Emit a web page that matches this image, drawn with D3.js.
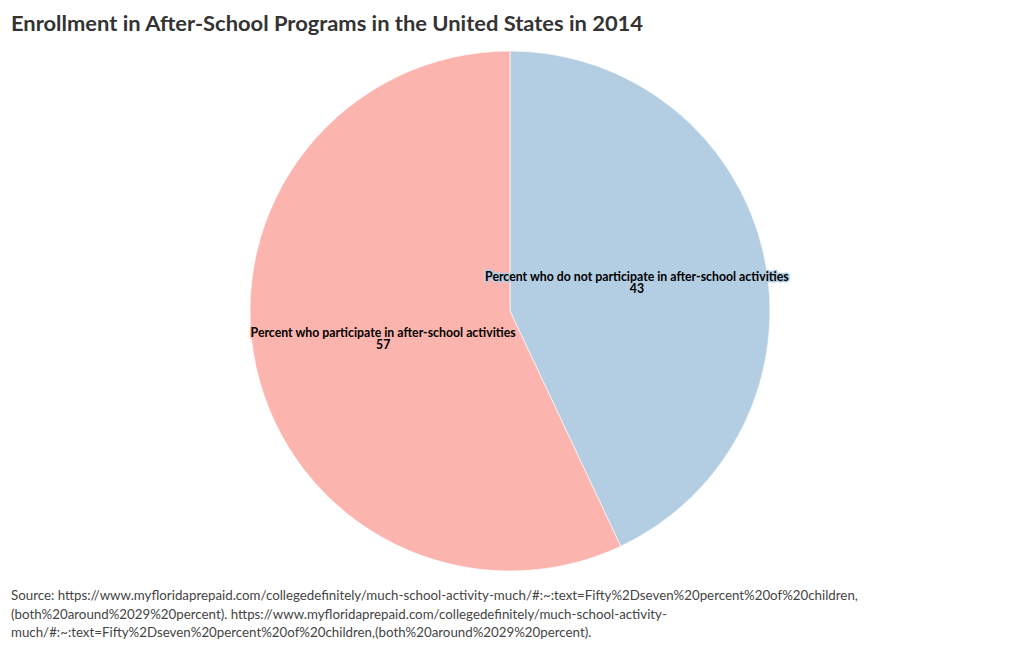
<!DOCTYPE html>
<html><head><meta charset="utf-8">
<script src="https://cdn.jsdelivr.net/npm/d3@7"></script>
<style>
body{margin:0;background:#fff;}
svg{display:block;font-family:"Source Sans Pro","Lato","Open Sans",sans-serif;}
</style></head>
<body>
<svg id="chart" width="1020" height="650"></svg>
<script>
const categories = ["Percent who do not participate in after-school activities", "Percent who participate in after-school activities"];
const values = [43, 57];
const colors = ["#b3cde3", "#fbb4ae"];
const title = "Enrollment in After-School Programs in the United States in 2014";
const sourceLines = [
  "Source: https://www.myfloridaprepaid.com/collegedefinitely/much-school-activity-much/#:~:text=Fifty%2Dseven%20percent%20of%20children,",
  "(both%20around%2029%20percent). https://www.myfloridaprepaid.com/collegedefinitely/much-school-activity-",
  "much/#:~:text=Fifty%2Dseven%20percent%20of%20children,(both%20around%2029%20percent)."
];

const svg = d3.select("#chart");
const cx = 510, cy = 311, r = 260;

svg.append("text").attr("x", 11).attr("y", 31)
  .attr("font-size", 21).attr("font-weight", 700).attr("fill", "#333")
  .attr("textLength", 632).attr("lengthAdjust", "spacingAndGlyphs")
  .text(title);

const data = categories.map((c, i) => ({name: c, value: values[i], color: colors[i]}));
const pie = d3.pie().sort(null).value(d => d.value);
const arc = d3.arc().innerRadius(0).outerRadius(r);
const labelArc = d3.arc().innerRadius(r / 2).outerRadius(r / 2);

const g = svg.append("g").attr("transform", `translate(${cx},${cy})`);
const arcs = pie(data);
g.selectAll("path").data(arcs).join("path")
  .attr("d", arc).attr("fill", d => d.data.color)
  .attr("stroke", "#fff").attr("stroke-width", 0.6);

const lab = g.selectAll("g.lab").data(arcs).join("g").attr("class", "lab")
  .attr("transform", d => `translate(${labelArc.centroid(d)})`);
lab.append("text").attr("text-anchor", "middle").attr("y", -2)
  .attr("font-size", 12.3).attr("font-weight", 700).attr("fill", "#000")
  .attr("stroke", d => d.data.color).attr("stroke-width", 3).attr("paint-order", "stroke")
  .attr("stroke-linejoin", "round")
  .text(d => d.data.name);
lab.append("text").attr("text-anchor", "middle").attr("y", 10)
  .attr("font-size", 12.3).attr("font-weight", 700).attr("fill", "#000")
  .attr("stroke", d => d.data.color).attr("stroke-width", 3).attr("paint-order", "stroke")
  .attr("stroke-linejoin", "round")
  .text(d => d.data.value);

svg.append("g").selectAll("text").data(sourceLines).join("text")
  .attr("x", 11).attr("y", (d, i) => 600 + i * 18.5)
  .attr("font-size", 13.3).attr("fill", "#444").text(d => d);
</script>
</body></html>
